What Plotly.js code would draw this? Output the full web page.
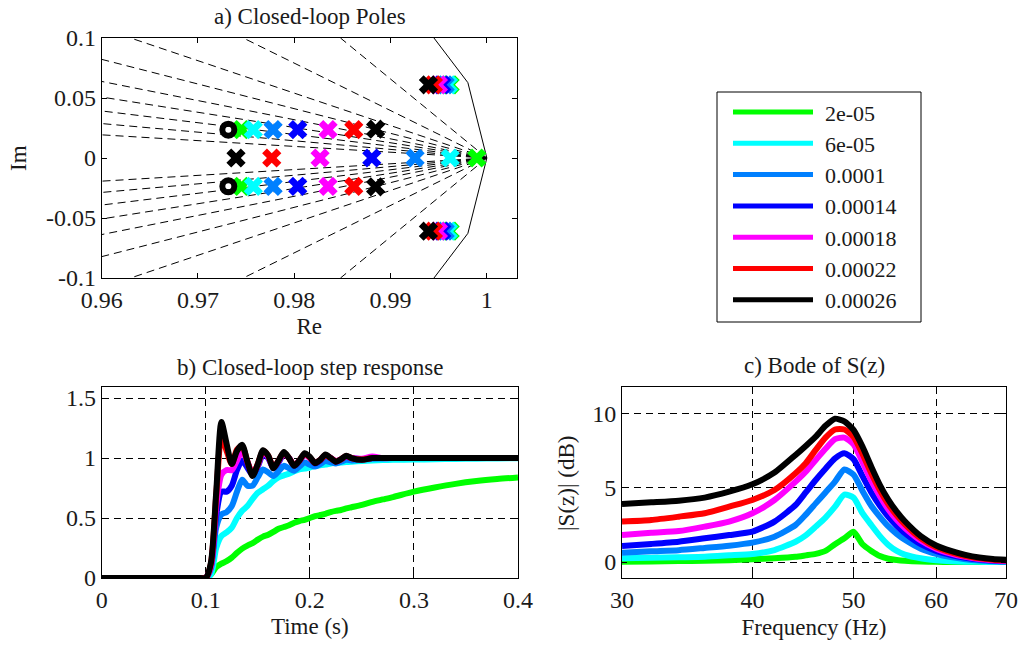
<!DOCTYPE html>
<html>
<head>
<meta charset="utf-8">
<script src="https://cdn.plot.ly/plotly-3.0.1.min.js"></script>
<style>
  html, body { margin: 0; padding: 0; background: #fff; }
  #chart { width: 1018px; height: 648px; }
</style>
</head>
<body>
<div id="chart"></div>
<script>
// Controller gains (legend) and their colours
const gainLabels = ['2e-05', '6e-05', '0.0001', '0.00014', '0.00018', '0.00022', '0.00026'];
const seriesColors = ['#00ff00', '#00ffff', '#0080ff', '#0000ff', '#ff00ff', '#ff0000', '#000000'];

// a) closed-loop poles, one value per gain
const realPoleRe = [0.99896, 0.99619, 0.99255, 0.98805, 0.98268, 0.97766, 0.97395];
const pairPoleRe = [0.97452, 0.97575, 0.97780, 0.98036, 0.98351, 0.98618, 0.98845];
const pairPoleIm = [0.0236, 0.0236, 0.0236, 0.0236, 0.0236, 0.0236, 0.0240];
const resPoleRe  = [0.99619, 0.99601, 0.99567, 0.99532, 0.99497, 0.99445, 0.99393];
const resPoleIm  = [0.0610, 0.0610, 0.0610, 0.0610, 0.0610, 0.0610, 0.0610];
// open-loop zeros
const zeroRe = [0.97315];
const zeroIm = [0.0236];
// constant damping-ratio lines (zeta = 0.1 ... 0.9): far end of the upper branch, all start at z = 1
const zetaEndRe = [0.9848, 0.9747, 0.9630, 0.9600, 0.9600, 0.9600, 0.9600, 0.9600, 0.9600];
const zetaEndIm = [0.1000, 0.1000, 0.1000, 0.0822, 0.0638, 0.0508, 0.0392, 0.0287, 0.0193];
// unit circle polyline near z = 1
const unitArcRe = [0.99211, 0.99803, 1.0, 0.99803, 0.99211];
const unitArcIm = [-0.12533, -0.06279, 0.0, 0.06279, 0.12533];

const poleReTicks = [0.96, 0.97, 0.98, 0.99, 1];
const poleReText  = ['0.96', '0.97', '0.98', '0.99', '1'];
const poleImTicks = [-0.1, -0.05, 0, 0.05, 0.1];
const poleImText  = ['-0.1', '-0.05', '0', '0.05', '0.1'];

// b) closed-loop step response
const stepTime = [0, 0.095, 0.1, 0.105, 0.11, 0.115, 0.12, 0.125, 0.13, 0.135, 0.14, 0.145, 0.15, 0.155, 0.16,
  0.165, 0.17, 0.175, 0.18, 0.185, 0.19, 0.195, 0.2, 0.205, 0.21, 0.215, 0.22, 0.225, 0.23, 0.235, 0.24,
  0.25, 0.26, 0.27, 0.28, 0.3, 0.32, 0.34, 0.36, 0.38, 0.4];
const stepGreen = [0, 0, 0, 0.03, 0.09, 0.12, 0.14, 0.17, 0.21, 0.245, 0.27, 0.29, 0.32, 0.345, 0.36,
  0.385, 0.41, 0.425, 0.44, 0.46, 0.475, 0.485, 0.5, 0.515, 0.525, 0.535, 0.55, 0.56, 0.567, 0.58, 0.59,
  0.61, 0.635, 0.655, 0.675, 0.72, 0.755, 0.785, 0.808, 0.825, 0.838];
const stepCyan = [0, 0, 0, 0.03, 0.25, 0.35, 0.38, 0.42, 0.5, 0.56, 0.6, 0.66, 0.71, 0.74, 0.77,
  0.81, 0.84, 0.855, 0.87, 0.89, 0.905, 0.912, 0.92, 0.935, 0.94, 0.945, 0.955, 0.96, 0.962, 0.967, 0.97,
  0.975, 0.98, 0.983, 0.985, 0.988, 0.99, 0.993, 0.995, 0.997, 0.998];
const stepLightBlue = [0, 0, 0, 0.08, 0.42, 0.53, 0.55, 0.6, 0.72, 0.82, 0.77, 0.77, 0.84, 0.905, 0.88,
  0.85, 0.89, 0.935, 0.915, 0.895, 0.93, 0.962, 0.945, 0.93, 0.95, 0.975, 0.965, 0.955, 0.97, 0.985, 0.98,
  0.985, 0.995, 0.997, 1.0, 1.0, 1.0, 1.0, 1.0, 1.0, 1.0];
const stepBlue = [0, 0, 0, 0.1, 0.52, 0.72, 0.72, 0.77, 0.9, 0.98, 0.92, 0.86, 0.93, 1.03, 1.0,
  0.915, 0.965, 1.035, 1.0, 0.935, 0.975, 1.03, 1.0, 0.955, 0.98, 1.02, 1.0, 0.97, 0.99, 1.01, 1.0,
  0.99, 1.0, 1.0, 1.0, 1.0, 1.0, 1.0, 1.0, 1.0, 1.0];
const stepMagenta = [0, 0, 0, 0.1, 0.6, 0.86, 0.9, 0.9, 0.98, 1.06, 0.97, 0.87, 0.94, 1.05, 1.01,
  0.92, 0.975, 1.04, 1.0, 0.94, 0.978, 1.032, 1.0, 0.962, 0.985, 1.022, 1.0, 0.975, 0.99, 1.015, 1.0,
  0.995, 1.012, 1.0, 1.0, 1.0, 1.0, 1.0, 1.0, 1.0, 1.0];
const stepRed = [0, 0, 0, 0.12, 0.68, 1.18, 1.06, 0.95, 1.07, 1.1, 0.97, 0.86, 0.95, 1.06, 1.02,
  0.92, 0.98, 1.045, 1.0, 0.94, 0.98, 1.035, 1.005, 0.96, 0.985, 1.025, 1.0, 0.972, 0.99, 1.018, 1.0,
  0.987, 1.0, 1.0, 1.0, 1.0, 1.0, 1.0, 1.0, 1.0, 1.0];
const stepBlack = [0, 0, 0, 0.13, 0.71, 1.3, 1.12, 0.95, 1.06, 1.11, 0.97, 0.85, 0.95, 1.065, 1.02,
  0.915, 0.98, 1.05, 1.0, 0.935, 0.98, 1.04, 1.01, 0.958, 0.985, 1.03, 1.0, 0.97, 0.99, 1.02, 1.0,
  0.985, 1.0, 1.0, 1.0, 1.0, 1.0, 1.0, 1.0, 1.0, 1.0];
const stepSeries = [stepGreen, stepCyan, stepLightBlue, stepBlue, stepMagenta, stepRed, stepBlack];

// c) sensitivity magnitude |S(z)| in dB
const bodeFreq = [30, 32, 34, 36, 38, 40, 42, 44, 45, 46, 47, 48, 49, 50, 51, 52, 53, 54, 55, 56,
  58, 60, 62, 64, 66, 68, 70];
const bodeGreen = [0.02, 0.03, 0.06, 0.09, 0.12, 0.18, 0.25, 0.35, 0.45, 0.55, 0.75, 1.2, 1.6, 2.05,
  1.2, 0.75, 0.4, 0.22, 0.13, 0.08, 0.03, 0.01, 0, 0, 0, 0, 0];
const bodeCyan = [0.25, 0.28, 0.32, 0.36, 0.45, 0.54, 0.81, 1.37, 1.8, 2.39, 3.0, 3.74, 4.55, 4.35,
  3.3, 2.5, 1.75, 1.15, 0.75, 0.5, 0.25, 0.12, 0.05, 0.02, 0.01, 0, 0];
const bodeLightBlue = [0.62, 0.72, 0.8, 0.95, 1.1, 1.31, 1.71, 2.5, 3.2, 3.96, 4.7, 5.43, 6.25, 5.9,
  4.8, 3.8, 3.05, 2.4, 1.9, 1.5, 0.9, 0.55, 0.33, 0.19, 0.1, 0.05, 0.03];
const bodeBlue = [1.08, 1.22, 1.37, 1.6, 1.82, 2.05, 2.73, 3.85, 4.7, 5.54, 6.3, 7.0, 7.34, 6.95,
  5.8, 4.7, 3.8, 3.05, 2.45, 1.95, 1.2, 0.75, 0.47, 0.28, 0.16, 0.09, 0.05];
const bodeMagenta = [1.82, 1.98, 2.09, 2.39, 2.73, 3.29, 4.19, 5.43, 6.1, 6.89, 7.65, 8.3, 8.4, 7.95,
  6.75, 5.5, 4.45, 3.55, 2.85, 2.3, 1.45, 0.9, 0.57, 0.35, 0.2, 0.12, 0.08];
const bodeRed = [2.73, 2.84, 3.06, 3.29, 3.74, 4.19, 4.86, 5.99, 6.67, 7.57, 8.4, 8.95, 8.95, 8.45,
  7.3, 6.0, 4.85, 3.9, 3.15, 2.55, 1.6, 1.0, 0.65, 0.4, 0.25, 0.15, 0.1];
const bodeBlack = [3.92, 4.03, 4.14, 4.35, 4.75, 5.25, 6.04, 7.23, 7.84, 8.47, 9.2, 9.68, 9.5, 8.92,
  7.79, 6.44, 5.2, 4.2, 3.4, 2.75, 1.75, 1.12, 0.75, 0.48, 0.3, 0.2, 0.15];
const bodeSeries = [bodeGreen, bodeCyan, bodeLightBlue, bodeBlue, bodeMagenta, bodeRed, bodeBlack];

const stepTicksX = [0, 0.1, 0.2, 0.3, 0.4];
const stepTicksY = [0, 0.5, 1, 1.5];
const bodeTicksX = [30, 40, 50, 60, 70];
const bodeTicksY = [0, 5, 10];

// ---------- page geometry (pixels) ----------
const W = 1018, H = 648;
const FONT = 'Liberation Serif';
const TXT = '#1a1a1a';
const fx = p => p / W;
const fy = p => 1 - p / H;

const traces = [];

// damping-ratio grid (dashed), upper and lower branches
const gx = [], gy = [];
zetaEndRe.forEach((re, k) => {
  gx.push(1, re, null, 1, re, null);
  gy.push(0, zetaEndIm[k], null, 0, -zetaEndIm[k], null);
});
traces.push({x: gx, y: gy, xaxis: 'x', yaxis: 'y', mode: 'lines', hoverinfo: 'skip',
  line: {color: '#000', width: 1, dash: '8px,5px'}, showlegend: false});
traces.push({x: unitArcRe, y: unitArcIm, xaxis: 'x', yaxis: 'y', mode: 'lines', hoverinfo: 'skip',
  line: {color: '#000', width: 1}, showlegend: false});

// poles per gain
gainLabels.forEach((g, i) => {
  traces.push({
    x: [realPoleRe[i], pairPoleRe[i], pairPoleRe[i], resPoleRe[i], resPoleRe[i]],
    y: [0, pairPoleIm[i], -pairPoleIm[i], resPoleIm[i], -resPoleIm[i]],
    xaxis: 'x', yaxis: 'y', mode: 'markers', name: g, showlegend: false,
    marker: {symbol: 'x', size: 17, color: seriesColors[i], line: {width: 0}}
  });
});
// zeros
traces.push({x: [zeroRe[0], zeroRe[0]], y: [zeroIm[0], -zeroIm[0]], xaxis: 'x', yaxis: 'y',
  mode: 'markers', showlegend: false,
  marker: {symbol: 'circle-open', size: 12, color: '#000', line: {width: 6, color: '#000'}}});

// step responses
stepSeries.forEach((s, i) => {
  traces.push({x: stepTime, y: s, xaxis: 'x2', yaxis: 'y2', mode: 'lines', name: gainLabels[i],
    showlegend: false, line: {color: seriesColors[i], width: 6, shape: 'spline', smoothing: 0.7}});
});

// sensitivity magnitude
bodeSeries.forEach((s, i) => {
  traces.push({x: bodeFreq, y: s, xaxis: 'x3', yaxis: 'y3', mode: 'lines', name: gainLabels[i],
    showlegend: false, line: {color: seriesColors[i], width: 6, shape: 'spline', smoothing: 0.6}});
});

const axisBase = {
  showline: true, linecolor: '#000', linewidth: 1, mirror: 'ticks',
  ticks: 'inside', ticklen: 5, tickcolor: '#000', tickwidth: 1,
  zeroline: false, automargin: false, fixedrange: true,
  tickfont: {family: FONT, size: 24, color: TXT},
  gridcolor: '#000', gridwidth: 1, griddash: '7px,5px'
};
const titleFont = {family: FONT, size: 23, color: TXT};

const layout = {
  width: W, height: H,
  margin: {l: 0, r: 0, t: 0, b: 0},
  paper_bgcolor: '#fff', plot_bgcolor: '#fff',
  showlegend: false,
  xaxis: Object.assign({}, axisBase, {
    domain: [fx(101.7), fx(516.7)], range: [0.96, 1.0031], anchor: 'y',
    tickvals: poleReTicks, ticktext: poleReText, showgrid: false,
    title: {text: 'Re', font: titleFont, standoff: 6}
  }),
  yaxis: Object.assign({}, axisBase, {
    domain: [fy(278), fy(38)], range: [-0.1, 0.1], anchor: 'x',
    tickvals: poleImTicks, ticktext: poleImText, showgrid: false
  }),
  xaxis2: Object.assign({}, axisBase, {
    domain: [fx(101.7), fx(518)], range: [0, 0.4], anchor: 'y2',
    tickvals: stepTicksX, ticktext: stepTicksX.map(String), showgrid: true,
    title: {text: 'Time (s)', font: titleFont, standoff: 6}
  }),
  yaxis2: Object.assign({}, axisBase, {
    domain: [fy(578), fy(387.3)], range: [0, 1.59], anchor: 'x2',
    tickvals: stepTicksY, ticktext: stepTicksY.map(String), showgrid: true
  }),
  xaxis3: Object.assign({}, axisBase, {
    domain: [fx(622), fx(1006)], type: 'log',
    range: [Math.log10(bodeTicksX[0]), Math.log10(bodeTicksX[bodeTicksX.length - 1])], anchor: 'y3',
    tickvals: bodeTicksX, ticktext: bodeTicksX.map(String), showgrid: true,
    title: {text: 'Frequency (Hz)', font: titleFont, standoff: 6}
  }),
  yaxis3: Object.assign({}, axisBase, {
    domain: [fy(578.3), fy(386.7)], range: [-1.1, 11.84], anchor: 'x3',
    tickvals: bodeTicksY, ticktext: bodeTicksY.map(String), showgrid: true
  }),
  annotations: [
    {text: 'a) Closed-loop Poles', x: fx(310), y: fy(16), xref: 'paper', yref: 'paper',
      showarrow: false, font: titleFont, xanchor: 'center', yanchor: 'middle'},
    {text: 'b) Closed-loop step response', x: fx(310), y: fy(367), xref: 'paper', yref: 'paper',
      showarrow: false, font: titleFont, xanchor: 'center', yanchor: 'middle'},
    {text: 'c) Bode of S(z)', x: fx(814), y: fy(366), xref: 'paper', yref: 'paper',
      showarrow: false, font: titleFont, xanchor: 'center', yanchor: 'middle'},
    // vertical axis titles
    {text: 'Im', x: fx(19), y: fy(158), xref: 'paper', yref: 'paper', textangle: -90,
      showarrow: false, font: titleFont, xanchor: 'center', yanchor: 'middle'},
    {text: '|S(z)| (dB)', x: fx(566), y: fy(484), xref: 'paper', yref: 'paper', textangle: -90,
      showarrow: false, font: titleFont, xanchor: 'center', yanchor: 'middle'}
  ],
  shapes: [
    {type: 'rect', xref: 'paper', yref: 'paper', x0: fx(717), x1: fx(921), y0: fy(92), y1: fy(322),
      line: {color: '#000', width: 1}, fillcolor: 'rgba(0,0,0,0)'}
  ]
};

// legend box entries, one per gain
gainLabels.forEach((g, i) => {
  const yc = 112 + i * 31.3;
  layout.shapes.push({type: 'line', xref: 'paper', yref: 'paper', x0: fx(733), x1: fx(813),
    y0: fy(yc), y1: fy(yc), line: {color: seriesColors[i], width: 5}});
  layout.annotations.push({text: g, x: fx(823), y: fy(yc + 1), xref: 'paper', yref: 'paper',
    showarrow: false, xanchor: 'left', yanchor: 'middle', font: {family: FONT, size: 22, color: TXT}});
});

Plotly.newPlot('chart', traces, layout, {staticPlot: true, displayModeBar: false});
</script>
</body>
</html>
